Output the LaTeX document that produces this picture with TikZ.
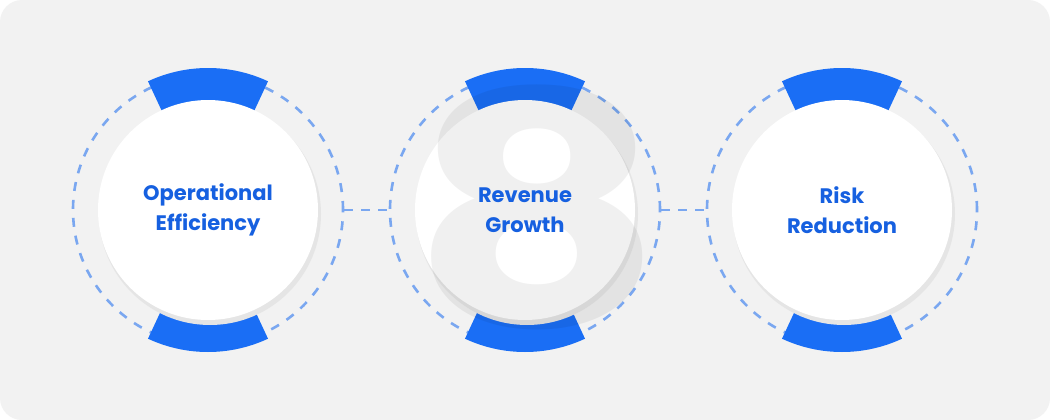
\documentclass[tikz,border=0pt]{standalone}
\usepackage{fontspec}
\setmainfont{Poppins}
\definecolor{bluebar}{HTML}{1A6EF5}
\definecolor{dashblue}{HTML}{7AA7F0}
\definecolor{label}{HTML}{1660E0}
\definecolor{panel}{HTML}{F2F2F2}
\tikzset{
  ring/.style={circle, minimum size=270pt, inner sep=0pt, draw=dashblue, line width=2.6pt, dash pattern=on 9pt off 9pt},
  disc/.style={circle, minimum size=220pt, inner sep=0pt, fill=white, text=label, font=\bfseries\fontsize{21}{30}\selectfont, align=center},
  link/.style={draw=dashblue, line width=2.6pt, dash pattern=on 9pt off 8pt},
}
\newcommand{\bluebars}[1]{%
  \fill[bluebar] (#1) ++(65:142pt) arc (65:115:142pt) -- ++(295:40pt) arc (115:65:102pt) -- cycle;
  \fill[bluebar] (#1) ++(245:142pt) arc (245:295:142pt) -- ++(115:40pt) arc (295:245:102pt) -- cycle;
}
\begin{document}
\begin{tikzpicture}[x=1pt,y=-1pt]
\useasboundingbox (0,0) rectangle (1050,420);
\fill[white] (0,0) rectangle (1050,420);
\fill[panel, rounded corners=22pt] (0,0) rectangle (1050,420);
% the three units
\foreach \cx/\nm in {208/a, 525/b, 842/c}{
  \node[ring] (ring\nm) at (\cx,210) {};
  \bluebars{\cx,210}
  \fill[black!10] (\cx+2,214) circle (111pt);
}
\node[disc] (opeff) at (208,210) {Operational\\Efficiency};
\node[disc] (revgr) at (525,210) {};
\node[black, opacity=0.06, xscale=1.15, yscale=0.95, font=\bfseries\fontsize{340}{340}\selectfont] (eight) at (537,207) {8};
\node[text=label, font=\bfseries\fontsize{21}{30}\selectfont, align=center] (revtxt) at (525,210) {Revenue\\Growth};
\node[disc] (riskred) at (842,210) {Risk\\Reduction};
% connectors
\path[link] (ringa.east) -- (ringb.west);
\path[link] (ringb.east) -- (ringc.west);
\end{tikzpicture}
\end{document}
